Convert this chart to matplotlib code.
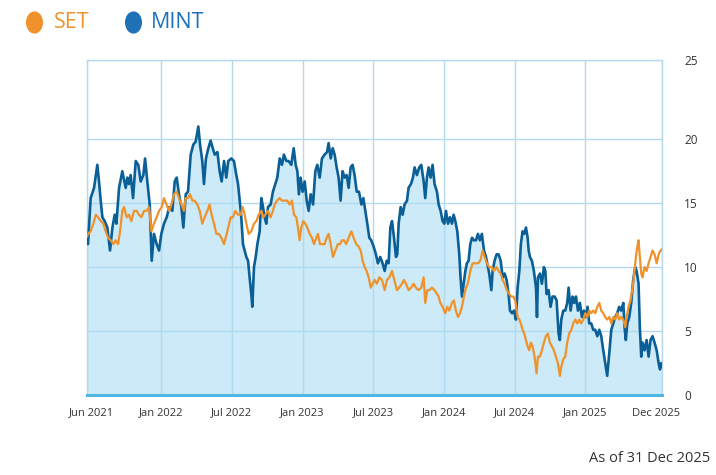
import matplotlib
matplotlib.use("Agg")
import matplotlib.pyplot as plt
from matplotlib.lines import Line2D
from matplotlib.path import Path
from matplotlib.transforms import Affine2D, ScaledTranslation

plt.rcParams['font.family'] = ['Open Sans', 'DejaVu Sans']

# ---- data (x in decimal years) ----
mint_t = [2021.475, 2021.481, 2021.500, 2021.524, 2021.547, 2021.559, 2021.571, 2021.583, 2021.599, 2021.618,
          2021.637, 2021.654, 2021.670, 2021.682, 2021.701, 2021.724, 2021.748, 2021.760, 2021.771, 2021.783,
          2021.800, 2021.819, 2021.837, 2021.854, 2021.873, 2021.885, 2021.901, 2021.918, 2021.932, 2021.948,
          2021.967, 2021.984, 2022.000, 2022.019, 2022.038, 2022.057, 2022.078, 2022.095, 2022.109, 2022.125,
          2022.142, 2022.156, 2022.173, 2022.189, 2022.208, 2022.227, 2022.243, 2022.262, 2022.274, 2022.290,
          2022.302, 2022.316, 2022.333, 2022.349, 2022.364, 2022.378, 2022.397, 2022.413, 2022.427, 2022.444,
          2022.460, 2022.474, 2022.496, 2022.514, 2022.531, 2022.543, 2022.555, 2022.566, 2022.578, 2022.590,
          2022.602, 2022.614, 2022.625, 2022.637, 2022.644, 2022.656, 2022.668, 2022.680, 2022.696, 2022.708,
          2022.720, 2022.731, 2022.743, 2022.755, 2022.774, 2022.790, 2022.807, 2022.821, 2022.838, 2022.854,
          2022.868, 2022.885, 2022.901, 2022.920, 2022.937, 2022.951, 2022.963, 2022.974, 2022.986, 2023.000,
          2023.015, 2023.029, 2023.043, 2023.057, 2023.074, 2023.090, 2023.104, 2023.121, 2023.137, 2023.156,
          2023.173, 2023.184, 2023.199, 2023.213, 2023.227, 2023.241, 2023.255, 2023.269, 2023.283, 2023.298,
          2023.312, 2023.326, 2023.340, 2023.354, 2023.368, 2023.383, 2023.399, 2023.416, 2023.430, 2023.444,
          2023.458, 2023.472, 2023.486, 2023.503, 2023.519, 2023.533, 2023.550, 2023.566, 2023.581, 2023.595,
          2023.609, 2023.621, 2023.633, 2023.647, 2023.661, 2023.670, 2023.680, 2023.694, 2023.708, 2023.722,
          2023.739, 2023.750, 2023.767, 2023.781, 2023.793, 2023.809, 2023.826, 2023.840, 2023.857, 2023.868,
          2023.880, 2023.892, 2023.906, 2023.920, 2023.934, 2023.951, 2023.963, 2023.977, 2023.991, 2024.003,
          2024.015, 2024.029, 2024.043, 2024.057, 2024.069, 2024.081, 2024.095, 2024.109, 2024.118, 2024.128,
          2024.140, 2024.152, 2024.163, 2024.175, 2024.187, 2024.199, 2024.213, 2024.227, 2024.241, 2024.255,
          2024.269, 2024.284, 2024.298, 2024.312, 2024.321, 2024.336, 2024.345, 2024.359, 2024.373, 2024.387,
          2024.402, 2024.416, 2024.430, 2024.444, 2024.458, 2024.468, 2024.482, 2024.496, 2024.510, 2024.522,
          2024.534, 2024.545, 2024.557, 2024.569, 2024.581, 2024.593, 2024.600, 2024.609, 2024.623, 2024.637,
          2024.652, 2024.659, 2024.666, 2024.680, 2024.694, 2024.708, 2024.718, 2024.727, 2024.741, 2024.755,
          2024.769, 2024.784, 2024.798, 2024.812, 2024.821, 2024.831, 2024.845, 2024.859, 2024.873, 2024.883,
          2024.897, 2024.911, 2024.923, 2024.935, 2024.949, 2024.963, 2024.977, 2024.991, 2025.005, 2025.017,
          2025.029, 2025.043, 2025.057, 2025.071, 2025.086, 2025.100, 2025.114, 2025.128, 2025.142, 2025.156,
          2025.171, 2025.185, 2025.199, 2025.213, 2025.227, 2025.241, 2025.255, 2025.270, 2025.279, 2025.288,
          2025.298, 2025.312, 2025.326, 2025.340, 2025.354, 2025.364, 2025.378, 2025.387, 2025.397, 2025.406,
          2025.420, 2025.435, 2025.449, 2025.463, 2025.477, 2025.491, 2025.506, 2025.520, 2025.529, 2025.539,
          2025.544]
mint_v = [12.0, 11.8, 15.4, 16.2, 18.0, 16.7, 15.2, 13.9, 13.6, 13.1,
          11.3, 13.1, 14.1, 13.4, 16.2, 17.5, 16.2, 17.0, 16.5, 17.2,
          15.4, 18.3, 18.0, 16.7, 17.2, 18.5, 16.7, 14.9, 10.5, 12.6,
          11.8, 11.3, 12.6, 13.4, 13.9, 14.7, 14.4, 16.7, 17.0, 15.7,
          14.7, 13.1, 15.7, 15.9, 18.8, 19.6, 19.8, 21.0, 19.6, 18.3,
          16.5, 18.5, 19.3, 19.9, 19.3, 18.8, 19.0, 17.5, 16.7, 18.3,
          17.0, 18.3, 18.5, 18.3, 17.2, 16.5, 15.2, 13.9, 11.8, 11.3,
          10.8, 10.5, 9.2, 7.9, 6.9, 10.0, 10.8, 11.8, 12.8, 15.4,
          14.7, 13.9, 13.4, 14.7, 14.9, 15.9, 16.5, 17.0, 18.5, 18.0,
          18.8, 18.3, 18.3, 18.0, 19.3, 18.0, 17.5, 15.7, 17.0, 15.9,
          16.7, 15.2, 14.4, 15.7, 14.9, 17.5, 18.0, 17.0, 18.5, 18.8,
          19.0, 19.7, 18.5, 19.3, 18.8, 17.8, 17.0, 15.2, 17.5, 17.0,
          17.2, 16.2, 17.8, 18.0, 17.2, 15.9, 15.9, 14.9, 15.4, 14.4,
          13.4, 12.3, 12.1, 11.6, 11.0, 10.3, 10.8, 10.3, 9.7, 10.5,
          10.3, 13.1, 13.6, 12.3, 10.8, 11.0, 13.4, 14.7, 14.1, 14.9,
          15.2, 16.2, 16.5, 17.0, 17.8, 17.2, 17.8, 18.0, 16.7, 15.4,
          17.0, 17.8, 17.0, 18.0, 16.5, 15.9, 14.9, 14.4, 13.6, 13.4,
          14.4, 13.4, 13.9, 13.4, 14.1, 13.6, 12.8, 11.0, 9.2, 7.7,
          8.7, 9.7, 10.3, 10.5, 11.8, 12.3, 12.1, 12.1, 12.6, 12.1,
          12.6, 11.3, 10.8, 10.0, 9.5, 8.2, 9.7, 10.5, 11.0, 11.0,
          10.5, 9.2, 9.5, 9.0, 7.9, 6.6, 6.4, 6.6, 5.9, 8.4,
          9.7, 11.8, 12.8, 12.6, 13.1, 12.3, 11.3, 10.8, 10.5, 9.7,
          8.4, 6.1, 9.2, 9.5, 8.7, 10.0, 9.7, 7.9, 8.2, 6.9,
          7.7, 7.7, 7.4, 4.8, 4.3, 5.9, 6.6, 6.6, 7.2, 8.4,
          6.6, 7.7, 7.2, 7.7, 6.6, 7.2, 6.1, 6.6, 6.1, 6.9,
          5.6, 5.6, 5.1, 5.1, 4.6, 5.1, 4.6, 3.5, 2.5, 1.5,
          3.3, 5.1, 5.6, 6.1, 6.4, 6.9, 6.6, 7.2, 5.3, 4.3,
          5.6, 6.1, 7.2, 9.0, 10.0, 9.7, 8.7, 5.3, 3.0, 4.1,
          3.5, 4.3, 3.0, 4.3, 4.6, 4.1, 3.5, 2.5, 2.0, 2.5,
          2.2]

set_t = [2021.475, 2021.481, 2021.500, 2021.519, 2021.536, 2021.552, 2021.571, 2021.590, 2021.606, 2021.623,
         2021.642, 2021.661, 2021.677, 2021.694, 2021.708, 2021.724, 2021.736, 2021.755, 2021.771, 2021.788,
         2021.807, 2021.826, 2021.842, 2021.859, 2021.878, 2021.896, 2021.913, 2021.930, 2021.948, 2021.967,
         2021.984, 2022.003, 2022.019, 2022.036, 2022.055, 2022.071, 2022.090, 2022.109, 2022.125, 2022.142,
         2022.161, 2022.172, 2022.189, 2022.203, 2022.220, 2022.236, 2022.255, 2022.272, 2022.290, 2022.307,
         2022.326, 2022.342, 2022.356, 2022.373, 2022.390, 2022.408, 2022.425, 2022.444, 2022.463, 2022.491,
         2022.507, 2022.524, 2022.543, 2022.562, 2022.576, 2022.590, 2022.602, 2022.618, 2022.637, 2022.656,
         2022.673, 2022.689, 2022.708, 2022.722, 2022.736, 2022.755, 2022.774, 2022.790, 2022.802, 2022.819,
         2022.838, 2022.854, 2022.873, 2022.892, 2022.908, 2022.925, 2022.939, 2022.956, 2022.967, 2022.979,
         2022.991, 2023.005, 2023.019, 2023.033, 2023.050, 2023.066, 2023.081, 2023.097, 2023.109, 2023.123,
         2023.137, 2023.156, 2023.170, 2023.184, 2023.199, 2023.215, 2023.232, 2023.250, 2023.265, 2023.279,
         2023.293, 2023.309, 2023.326, 2023.345, 2023.361, 2023.380, 2023.397, 2023.411, 2023.425, 2023.439,
         2023.453, 2023.468, 2023.482, 2023.496, 2023.510, 2023.526, 2023.543, 2023.562, 2023.581, 2023.597,
         2023.614, 2023.633, 2023.649, 2023.668, 2023.684, 2023.703, 2023.717, 2023.732, 2023.750, 2023.769,
         2023.786, 2023.802, 2023.821, 2023.840, 2023.857, 2023.868, 2023.883, 2023.897, 2023.916, 2023.934,
         2023.951, 2023.963, 2023.975, 2023.991, 2024.010, 2024.024, 2024.038, 2024.057, 2024.071, 2024.085,
         2024.100, 2024.114, 2024.128, 2024.142, 2024.156, 2024.170, 2024.187, 2024.203, 2024.222, 2024.241,
         2024.258, 2024.274, 2024.288, 2024.305, 2024.321, 2024.340, 2024.354, 2024.373, 2024.387, 2024.402,
         2024.416, 2024.430, 2024.446, 2024.463, 2024.477, 2024.491, 2024.505, 2024.522, 2024.534, 2024.545,
         2024.557, 2024.569, 2024.581, 2024.593, 2024.604, 2024.616, 2024.628, 2024.642, 2024.656, 2024.666,
         2024.680, 2024.694, 2024.708, 2024.722, 2024.736, 2024.751, 2024.765, 2024.779, 2024.793, 2024.807,
         2024.821, 2024.831, 2024.845, 2024.859, 2024.873, 2024.887, 2024.902, 2024.916, 2024.930, 2024.944,
         2024.958, 2024.972, 2024.987, 2025.001, 2025.015, 2025.029, 2025.043, 2025.057, 2025.071, 2025.086,
         2025.100, 2025.114, 2025.128, 2025.142, 2025.156, 2025.171, 2025.185, 2025.199, 2025.213, 2025.227,
         2025.241, 2025.255, 2025.270, 2025.284, 2025.293, 2025.307, 2025.321, 2025.336, 2025.350, 2025.359,
         2025.369, 2025.378, 2025.387, 2025.397, 2025.406, 2025.420, 2025.435, 2025.449, 2025.463, 2025.477,
         2025.491, 2025.506, 2025.520, 2025.534, 2025.544]
set_v = [12.4, 12.6, 12.8, 13.4, 14.1, 13.9, 13.6, 13.4, 12.8, 12.3,
         12.1, 11.8, 12.1, 11.8, 12.8, 14.4, 14.7, 13.9, 14.1, 13.6,
         14.4, 14.4, 14.1, 13.9, 14.4, 14.4, 14.7, 12.8, 13.4, 13.9,
         14.4, 14.7, 15.4, 14.9, 14.4, 14.9, 15.7, 15.9, 15.4, 14.9,
         14.4, 15.4, 15.4, 15.7, 15.2, 15.2, 14.9, 14.4, 13.4, 13.9,
         14.4, 14.9, 14.1, 13.4, 12.6, 12.6, 12.3, 11.8, 12.6, 13.9,
         13.9, 14.4, 14.1, 14.1, 14.7, 14.1, 13.4, 12.6, 12.8, 13.4,
         13.6, 14.1, 14.4, 13.9, 14.1, 14.4, 13.9, 14.4, 14.9, 15.2,
         15.4, 15.2, 15.2, 15.2, 14.9, 15.2, 14.1, 13.9, 13.1, 12.1,
         13.1, 13.6, 13.4, 13.1, 12.6, 12.3, 11.8, 12.3, 12.6, 11.8,
         11.8, 11.8, 12.3, 12.6, 11.8, 10.8, 11.3, 11.8, 11.8, 12.1,
         12.1, 11.8, 12.3, 12.8, 12.3, 11.8, 11.6, 11.3, 10.5, 10.0,
         9.7, 9.2, 8.4, 8.7, 9.0, 8.7, 9.2, 9.0, 8.2, 9.0,
         9.2, 9.7, 9.0, 8.2, 8.4, 8.7, 9.0, 8.7, 8.2, 8.4,
         8.7, 8.4, 8.2, 8.4, 9.2, 7.2, 8.2, 8.2, 8.4, 8.2,
         7.9, 7.7, 7.2, 6.9, 6.4, 6.9, 6.6, 7.2, 7.4, 6.6,
         6.1, 6.4, 6.9, 7.7, 8.4, 8.7, 9.7, 10.3, 10.3, 10.3,
         10.5, 11.3, 10.8, 10.3, 10.0, 10.0, 9.7, 10.0, 9.7, 9.5,
         9.0, 8.7, 8.2, 7.9, 7.7, 7.7, 7.4, 6.1, 5.9, 5.6,
         5.1, 4.8, 4.3, 3.8, 3.5, 4.1, 3.8, 3.0, 1.7, 3.0,
         3.0, 3.5, 4.1, 4.6, 4.8, 4.1, 3.8, 3.5, 3.0, 2.5,
         1.5, 2.2, 2.8, 3.0, 4.1, 4.8, 5.1, 5.6, 5.9, 5.6,
         5.9, 5.6, 5.9, 6.4, 6.1, 6.6, 6.4, 6.6, 6.4, 6.9,
         7.2, 6.6, 6.4, 6.1, 5.9, 6.1, 5.6, 6.1, 5.9, 6.4,
         5.9, 6.1, 5.9, 5.3, 6.1, 6.9, 7.4, 8.4, 9.7, 10.8,
         11.6, 12.1, 10.8, 9.5, 9.2, 10.0, 9.7, 10.3, 10.8, 11.3,
         11.0, 10.3, 11.0, 11.3, 11.4]

x_tick_pos = [2021.474, 2022.0, 2022.5, 2023.0, 2023.5, 2024.0, 2024.5, 2025.0, 2025.544]
x_tick_labels = ["Jun 2021", "Jan 2022", "Jul 2022", "Jan 2023", "Jul 2023",
                 "Jan 2024", "Jul 2024", "Jan 2025", "Dec 2025"]
y_tick_pos = [0, 5, 10, 15, 20, 26.2]
y_tick_labels = ["0", "5", "10", "15", "20", "25"]
series_names = ["SET", "MINT"]

MINT_LINE = '#0b5f97'
SET_LINE = '#f0922b'
MINT_LEG = '#1f72b8'
GRID = '#b7d9ef'

fig = plt.figure(figsize=(7.16, 4.75), dpi=100)
ax = fig.add_axes([0.1215, 0.1684, 0.8031, 0.7053])

ax.fill_between(mint_t, 0, mint_v, color='#aadcf2', alpha=0.6, lw=0, zorder=1)
ax.plot(mint_t, mint_v, color=MINT_LINE, lw=1.9, zorder=3, solid_joinstyle='round')
ax.plot(set_t, set_v, color=SET_LINE, lw=1.6, zorder=4, solid_joinstyle='round')

ax.set_xlim(x_tick_pos[0], x_tick_pos[-1])
ax.set_ylim(0, 26.2)
ax.set_xticks(x_tick_pos)
ax.set_xticklabels(x_tick_labels, fontsize=8, color='#333333')
ax.set_yticks(y_tick_pos)
ax.set_yticklabels(y_tick_labels, fontsize=8.5, color='#333333')
ax.yaxis.tick_right()
ax.tick_params(axis='both', length=0)
ax.tick_params(axis='y', pad=16)
ax.tick_params(axis='x', pad=9)
ax.grid(True, color=GRID, lw=1.0, zorder=0)
ax.set_axisbelow(True)
for side in ['left', 'right', 'top']:
    ax.spines[side].set_color(GRID)
    ax.spines[side].set_linewidth(1.0)
ax.spines['bottom'].set_color('#4fb6e6')
ax.spines['bottom'].set_linewidth(2.2)

# nudge the edge labels inward slightly, as in the reference
xlabels = ax.get_xticklabels()
xlabels[0].set_transform(xlabels[0].get_transform() + ScaledTranslation(4 / 100, 0, fig.dpi_scale_trans))
xlabels[-1].set_transform(xlabels[-1].get_transform() + ScaledTranslation(-6 / 100, 0, fig.dpi_scale_trans))

# legend (oval markers + coloured labels)
oval = Path.unit_circle().transformed(Affine2D().scale(0.75, 1.0))
leg_y = 0.953
for name, c, mx, tx in [(series_names[0], SET_LINE, 34 / 716, 54 / 716),
                        (series_names[1], MINT_LEG, 133 / 716, 151 / 716)]:
    fig.add_artist(Line2D([mx], [leg_y], marker=oval, markersize=15, color=c, ls='none',
                          transform=fig.transFigure))
    fig.text(tx, leg_y, name, color=c, fontsize=15.5, ha='left', va='center')

fig.text(0.992, 0.018, "As of 31 Dec 2025", ha='right', va='bottom', fontsize=10.5, color='#333333')

fig.savefig('out.png', dpi=100)
